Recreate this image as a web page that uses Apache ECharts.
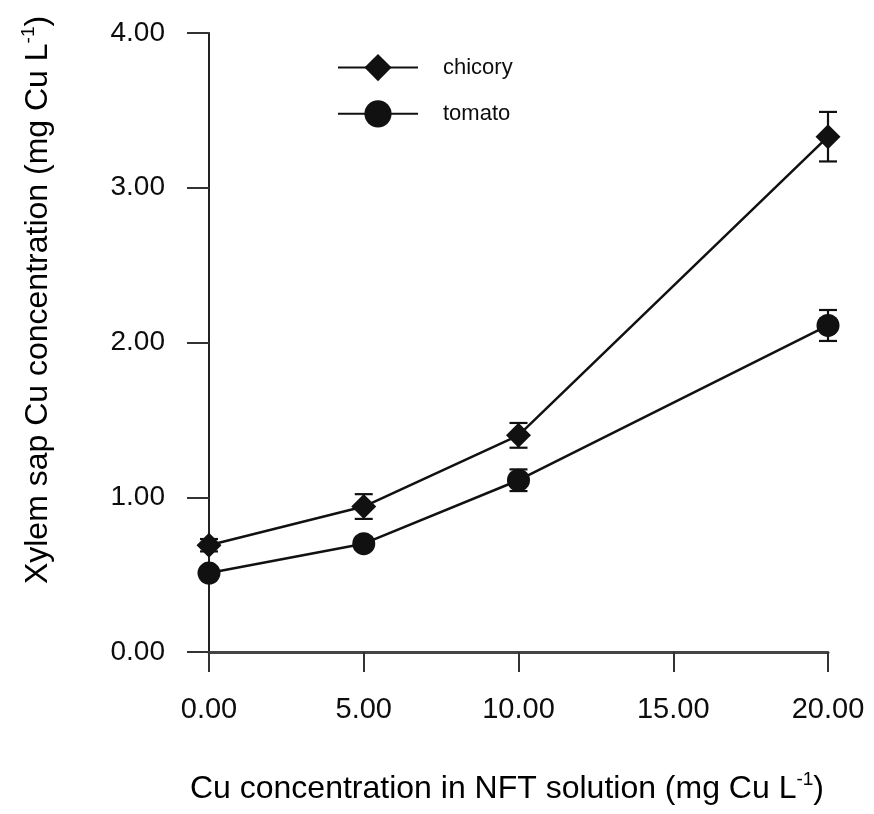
<!DOCTYPE html>
<html>
<head>
<meta charset="utf-8">
<title>Xylem sap Cu concentration</title>
<script src="https://cdn.jsdelivr.net/npm/echarts@6/dist/echarts.min.js"></script>
<style>
  html, body { margin: 0; padding: 0; background: #ffffff; }
  #chart { width: 874px; height: 814px; }
</style>
</head>
<body>
<div id="chart"></div>
<script>
// Cu concentration in the NFT solution (mg Cu L-1)
const cuLevels = [0, 5, 10, 20];

// Xylem sap Cu concentration (mg Cu L-1), means and standard errors
const chicoryMean = [0.69, 0.94, 1.40, 3.33];
const chicoryErr  = [0.04, 0.08, 0.08, 0.16];
const tomatoMean  = [0.51, 0.70, 1.11, 2.11];
const tomatoErr   = [0.03, 0.04, 0.07, 0.10];

const xTicks = { min: 0, max: 20, step: 5 };
const yTicks = { min: 0, max: 4, step: 1 };

const FONT = 'Liberation Sans, Arial, sans-serif';
const INK = '#0d0d0d';

function pairs(xs, ys) { return xs.map((x, i) => [x, ys[i]]); }
function errRows(xs, ys, es) { return xs.map((x, i) => [x, ys[i] - es[i], ys[i] + es[i]]); }

// Vertical error bar with short caps
function renderErrorBar(params, api) {
  const x = api.value(0);
  const lo = api.coord([x, api.value(1)]);
  const hi = api.coord([x, api.value(2)]);
  const half = 9;
  const style = { stroke: '#111', lineWidth: 2.2 };
  return {
    type: 'group',
    children: [
      { type: 'line', shape: { x1: lo[0], y1: lo[1], x2: hi[0], y2: hi[1] }, style },
      { type: 'line', shape: { x1: hi[0] - half, y1: hi[1], x2: hi[0] + half, y2: hi[1] }, style },
      { type: 'line', shape: { x1: lo[0] - half, y1: lo[1], x2: lo[0] + half, y2: lo[1] }, style }
    ]
  };
}

const chart = echarts.init(document.getElementById('chart'), null, { renderer: 'canvas' });

const supRich = {
  a: { fontSize: 32, fontFamily: FONT, color: INK, lineHeight: 38 },
  s: { fontSize: 19, fontFamily: FONT, color: INK, lineHeight: 38, verticalAlign: 'top' }
};

chart.setOption({
  backgroundColor: '#ffffff',
  animation: false,
  grid: { left: 209, top: 33, width: 619, height: 619, containLabel: false },
  legend: {
    orient: 'vertical',
    left: 337,
    top: 54,
    padding: 0,
    itemWidth: 80,
    itemHeight: 34,
    itemGap: 19,
    selectedMode: false,
    textStyle: { fontFamily: FONT, fontSize: 22, color: INK, padding: [0, 0, 0, 20] },
    data: ['chicory', 'tomato']
  },
  xAxis: {
    type: 'value',
    min: xTicks.min,
    max: xTicks.max,
    interval: xTicks.step,
    splitLine: { show: false },
    axisLine: { show: true, onZero: false, lineStyle: { color: '#444', width: 3 } },
    axisTick: { show: true, length: 20, lineStyle: { color: '#333', width: 2 } },
    axisLabel: {
      margin: 43,
      fontFamily: FONT,
      fontSize: 29,
      color: INK,
      formatter: v => v.toFixed(2)
    }
  },
  yAxis: {
    type: 'value',
    min: yTicks.min,
    max: yTicks.max,
    interval: yTicks.step,
    splitLine: { show: false },
    axisLine: { show: true, onZero: false, lineStyle: { color: '#222', width: 2 } },
    axisTick: { show: true, length: 22, lineStyle: { color: '#333', width: 2 } },
    axisLabel: {
      margin: 44,
      fontFamily: FONT,
      fontSize: 28,
      color: INK,
      formatter: v => v.toFixed(2)
    }
  },
  graphic: [
    {
      type: 'text',
      x: 507,
      y: 789,
      style: {
        text: '{a|Cu concentration in NFT solution (mg Cu L}{s|-1}{a|)}',
        rich: supRich,
        align: 'center',
        verticalAlign: 'middle'
      }
    },
    {
      type: 'text',
      x: 38,
      y: 300,
      rotation: Math.PI / 2,
      style: {
        text: '{a|Xylem sap Cu concentration (mg Cu L}{s|-1}{a|)}',
        rich: supRich,
        align: 'center',
        verticalAlign: 'middle'
      }
    }
  ],
  series: [
    {
      name: 'chicory-err',
      type: 'custom',
      renderItem: renderErrorBar,
      data: errRows(cuLevels, chicoryMean, chicoryErr),
      encode: { x: 0, y: [1, 2] },
      z: 3
    },
    {
      name: 'tomato-err',
      type: 'custom',
      renderItem: renderErrorBar,
      data: errRows(cuLevels, tomatoMean, tomatoErr),
      encode: { x: 0, y: [1, 2] },
      z: 3
    },
    {
      name: 'chicory',
      type: 'line',
      data: pairs(cuLevels, chicoryMean),
      symbol: 'diamond',
      symbolSize: 25,
      itemStyle: { color: '#111' },
      lineStyle: { color: '#111', width: 2.5 },
      z: 4
    },
    {
      name: 'tomato',
      type: 'line',
      data: pairs(cuLevels, tomatoMean),
      symbol: 'circle',
      symbolSize: 23,
      itemStyle: { color: '#111' },
      lineStyle: { color: '#111', width: 2.5 },
      z: 4
    }
  ]
});
</script>
</body>
</html>
